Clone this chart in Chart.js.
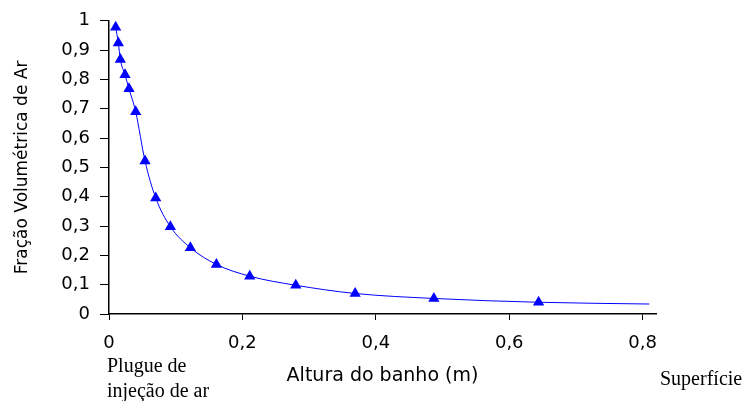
<!DOCTYPE html>
<html>
<head>
<meta charset="utf-8">
<script src="https://cdn.jsdelivr.net/npm/chart.js@4.4.0/dist/chart.umd.min.js"></script>
<style>
  html, body { margin: 0; padding: 0; background: #fff; }
  #wrap { width: 748px; height: 401px; }
</style>
</head>
<body>
<div id="wrap"><canvas id="fracaoChart" width="748" height="401"></canvas></div>
<script>
// Medidas
const alturaPts = [0.010, 0.014, 0.017, 0.024, 0.030, 0.040, 0.054, 0.070, 0.092, 0.122, 0.161, 0.211, 0.280, 0.369, 0.487, 0.644];
const fracaoPts = [0.978, 0.924, 0.868, 0.816, 0.768, 0.690, 0.522, 0.396, 0.298, 0.226, 0.169, 0.129, 0.098, 0.070, 0.053, 0.040];
// fim da curva ajustada (sem marcador)
const fimCurvaX = 0.81;
const fimCurvaY = 0.034;
const xTicks = [0, 0.2, 0.4, 0.6, 0.8];
const yTicks = [0, 0.1, 0.2, 0.3, 0.4, 0.5, 0.6, 0.7, 0.8, 0.9, 1];

const fmt = v => String(Math.round(v * 10) / 10).replace('.', ',');

const pontos = alturaPts.map((x, i) => ({ x: x, y: fracaoPts[i] }));
const curva = pontos.concat([{ x: fimCurvaX, y: fimCurvaY }]);

// textos extras abaixo do eixo x
const notas = {
    id: 'notas',
    afterDraw(chart) {
        const ctx = chart.ctx;
        const area = chart.chartArea;
        const x0 = chart.scales.x.getPixelForValue(0);
        ctx.save();
        ctx.fillStyle = '#000';
        ctx.font = '20px "Liberation Serif", "Times New Roman", serif';
        ctx.textAlign = 'left';
        ctx.textBaseline = 'alphabetic';
        ctx.fillText('Plugue de', x0 - 2, area.bottom + 58);
        ctx.fillText('injeção de ar', x0 - 2, area.bottom + 83);
        ctx.fillText('Superfície', area.right + 4, area.bottom + 71);
        ctx.restore();
    }
};

Chart.defaults.color = '#000';
Chart.defaults.font.family = '"DejaVu Sans", Arial, sans-serif';

const ctx = document.getElementById('fracaoChart');
new Chart(ctx, {
    type: 'scatter',
    data: {
        datasets: [{
            label: 'curva',
            data: curva,
            showLine: true,
            borderColor: '#0000ff',
            borderWidth: 1,
            pointRadius: 0,
            cubicInterpolationMode: 'monotone',
            fill: false
        }, {
            label: 'medidas',
            data: pontos,
            showLine: false,
            pointStyle: 'triangle',
            pointRadius: 6.5,
            backgroundColor: '#0000ff',
            borderColor: '#0000ff',
            borderWidth: 0
        }]
    },
    options: {
        responsive: false,
        animation: false,
        devicePixelRatio: 1,
        layout: {
            padding: { top: 18, right: 92, left: 0, bottom: 0 }
        },
        plugins: {
            legend: { display: false },
            tooltip: { enabled: false }
        },
        scales: {
            x: {
                type: 'linear',
                min: 0,
                max: 0.82,
                afterBuildTicks: s => { s.ticks = xTicks.map(v => ({ value: v })); },
                afterFit: s => { s.height = 87; },
                grid: { drawOnChartArea: false, tickLength: 6, color: '#000', lineWidth: 1 },
                border: { color: '#000', width: 1.5 },
                ticks: {
                    padding: 13,
                    font: { size: 18 },
                    callback: v => fmt(v)
                },
                title: {
                    display: true,
                    text: 'Altura do banho (m)',
                    font: { size: 19 },
                    padding: { top: 0, bottom: 14 }
                }
            },
            y: {
                type: 'linear',
                min: 0,
                max: 1,
                afterBuildTicks: s => { s.ticks = yTicks.map(v => ({ value: v })); },
                afterFit: s => { s.width = 109; },
                grid: { drawOnChartArea: false, tickLength: 9, color: '#000', lineWidth: 1 },
                border: { color: '#000', width: 1.5 },
                ticks: {
                    padding: 10,
                    font: { size: 18 },
                    callback: v => fmt(v)
                },
                title: {
                    display: true,
                    text: 'Fração Volumétrica de Ar',
                    font: { size: 17 },
                    padding: { top: 12, bottom: 0 }
                }
            }
        }
    },
    plugins: [notas]
});
</script>
</body>
</html>
